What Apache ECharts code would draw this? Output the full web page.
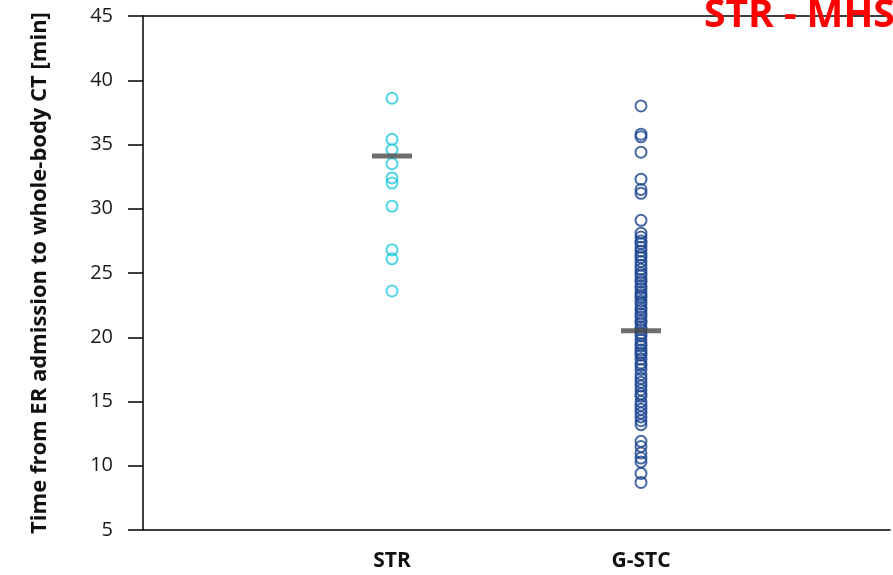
<!DOCTYPE html>
<html>
<head>
<meta charset="utf-8">
<script src="https://cdn.jsdelivr.net/npm/echarts@6/dist/echarts.min.js"></script>
<style>
  html, body { margin: 0; padding: 0; background: #fff; }
  #chart { width: 893px; height: 575px; }
</style>
</head>
<body>
<div id="chart"></div>
<script>
  // groups on the x axis (placed at x = 1, 2)
  var groups = ['STR', 'G-STC']

  // time from ER admission to whole-body CT [min]
  var strValues = [38.6, 35.4, 34.6, 33.5, 32.4, 32.0, 30.2, 26.8, 26.1, 23.6]
  var gstcValues = [
    38.0, 35.8, 35.6, 34.4, 32.3, 31.5, 31.2, 29.1,
    28.1, 27.8, 27.5, 27.3, 27.0, 26.7, 26.4, 26.2, 25.9, 25.6,
    25.3, 25.0, 24.8, 24.5, 24.3, 24.0, 23.8, 23.5, 23.3, 23.1,
    22.8, 22.6, 22.3, 22.1, 21.8, 21.6, 21.3, 21.1, 20.8, 20.6,
    20.3, 20.1, 19.8, 19.5, 19.3, 19.0, 18.8, 18.6, 18.3, 18.0,
    17.8, 17.5, 17.1, 16.8, 16.5, 16.2, 15.9, 15.6, 15.4, 15.0,
    14.7, 14.4, 14.1, 13.8, 13.5, 13.2,
    11.9, 11.5, 11.0, 10.6, 10.3, 9.4, 8.7
  ]
  // horizontal marker per group
  var groupMarks = [34.1, 20.5]

  var yTicks = [5, 10, 15, 20, 25, 30, 35, 40, 45]

  var chart = echarts.init(document.getElementById('chart'))

  function toPoints(x, vals) {
    return vals.map(function (v) { return [x, v] })
  }

  chart.setOption({
    animation: false,
    backgroundColor: '#fff',
    title: {
      text: 'STR - MHS',
      left: 699,
      top: -9,
      textStyle: {
        color: '#ff0000',
        fontFamily: 'Open Sans',
        fontWeight: 'bold',
        fontSize: 39
      }
    },
    grid: { left: 143, right: -3, top: 16, bottom: 45 },
    xAxis: [{
      type: 'value',
      min: 0,
      max: 3,
      interval: 1,
      splitLine: { show: false },
      axisTick: { show: false },
      axisLine: { lineStyle: { color: '#000', width: 1.5 } },
      axisLabel: {
        margin: 21,
        color: '#111',
        fontFamily: 'Open Sans',
        fontWeight: 'bold',
        fontSize: 21,
        formatter: function (v) { return groups[v - 1] || '' }
      }
    }, {
      type: 'value',
      position: 'top',
      min: 0,
      max: 3,
      splitLine: { show: false },
      axisTick: { show: false },
      axisLabel: { show: false },
      axisLine: { onZero: false, lineStyle: { color: '#000', width: 1.5 } }
    }],
    yAxis: {
      type: 'value',
      min: yTicks[0],
      max: yTicks[yTicks.length - 1],
      interval: 5,
      name: 'Time from ER admission to whole-body CT [min]',
      nameLocation: 'middle',
      nameGap: 92,
      nameTextStyle: {
        color: '#111',
        fontFamily: 'Open Sans',
        fontWeight: 'bold',
        fontSize: 22
      },
      splitLine: { show: false },
      axisLine: { lineStyle: { color: '#000', width: 1.5 } },
      axisTick: { length: 15, lineStyle: { color: '#000', width: 1.5 } },
      axisLabel: {
        margin: 30,
        color: '#1a1a1a',
        fontFamily: 'Open Sans',
        fontSize: 20
      }
    },
    series: [
      {
        type: 'scatter',
        data: toPoints(1, strValues),
        symbol: 'circle',
        symbolSize: 11,
        itemStyle: { color: 'transparent', borderColor: '#22cbdc', borderWidth: 2 }
      },
      {
        type: 'scatter',
        data: toPoints(2, gstcValues),
        symbol: 'circle',
        symbolSize: 11,
        itemStyle: { color: 'transparent', borderColor: '#1b448f', borderWidth: 2 }
      },
      {
        type: 'scatter',
        z: 5,
        data: groupMarks.map(function (v, i) { return [i + 1, v] }),
        symbol: 'rect',
        symbolSize: [40, 5],
        itemStyle: { color: '#4a4a4a' }
      }
    ]
  })
</script>
</body>
</html>
